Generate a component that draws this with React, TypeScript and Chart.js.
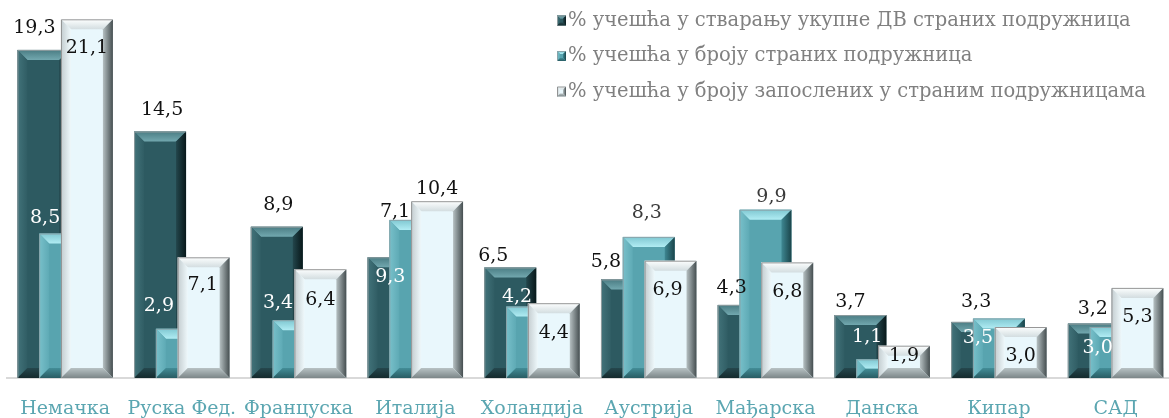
import React, { useEffect, useRef } from "react";
import { Chart, registerables } from "chart.js";

Chart.register(...registerables);

const categories = ["Немачка", "Руска Фед.", "Француска", "Италија", "Холандија", "Аустрија", "Мађарска", "Данска", "Кипар", "САД"];
const seriesNames = [
  "% учешћа у стварању укупне ДВ страних подружница",
  "% учешћа у броју страних подружница",
  "% учешћа у броју запослених у страним подружницама",
];
const shareValueAdded = [19.3, 14.5, 8.9, 7.1, 6.5, 5.8, 4.3, 3.7, 3.3, 3.2];
const shareCompanies = [8.5, 2.9, 3.4, 9.3, 4.2, 8.3, 9.9, 1.1, 3.5, 3.0];
const shareEmployees = [21.1, 7.1, 6.4, 10.4, 4.4, 6.9, 6.8, 1.9, 3.0, 5.3];
const yMax = 22;

// label placement (offsets from bar centre / bar top, px)
const labelDx = [
  [-9, 2, 1.5, 1.5, -17, -21, -12, -10, -1, -1],
  [-20, -23, -20.5, -25, -15, -2, 6, -15, -21, -18],
  [0, -1, 0, 0, 0, -3, 0, 0, 0, 0],
];
const labelDy = [
  [-22, -21, -22, -45, -11, -17, -17, -13, -20, -15],
  [-15, -23, -17, 57, -10, -24, -13, -22, 20, 21],
  [29, 28, 31, -12, 30, 29, 30, 10, 29, 29],
];
const labelColors = [
  Array(10).fill("#111111"),
  ["#ffffff", "#ffffff", "#ffffff", "#ffffff", "#ffffff", "#3a3a3a", "#3a3a3a", "#ffffff", "#ffffff", "#ffffff"],
  Array(10).fill("#111111"),
];

type Pal = {
  face: string; topO: string; topI: string; leftO: string; leftI: string;
  rightI: string; rightO: string; botI: string; botO: string; edge: string;
};

const palettes: Pal[] = [
  { face: "#2d5a61", topO: "#4a7c83", topI: "#72a8af", leftO: "#42737a", leftI: "#305d64", rightI: "#23464c", rightO: "#08181a", botI: "#25474d", botO: "#142a2d", edge: "rgba(150,160,162,0.9)" },
  { face: "#58a4af", topO: "#7fc7d1", topI: "#b0ecf3", leftO: "#78c0ca", leftI: "#5eaab5", rightI: "#3e8792", rightO: "#1a444a", botI: "#438d97", botO: "#285c63", edge: "rgba(140,160,165,0.9)" },
  { face: "#e9f7fc", topO: "#fdffff", topI: "#d3dde0", leftO: "#c3cccf", leftI: "#eef8fb", rightI: "#b6c0c2", rightO: "#454e50", botI: "#b8c2c4", botO: "#7c8688", edge: "rgba(140,140,140,0.9)" },
];

function poly(ctx: CanvasRenderingContext2D, pts: number[][], fill: any) {
  ctx.beginPath();
  ctx.moveTo(pts[0][0], pts[0][1]);
  for (let i = 1; i < pts.length; i++) ctx.lineTo(pts[i][0], pts[i][1]);
  ctx.closePath();
  ctx.fillStyle = fill;
  ctx.fill();
}

function bevelRect(ctx: CanvasRenderingContext2D, x0: number, y0: number, x1: number, y1: number, p: Pal, bsz: number) {
  const w = x1 - x0, h = y1 - y0;
  if (w <= 0 || h <= 0) return;
  const b = Math.min(bsz, w / 2, h / 2);
  ctx.save();
  ctx.fillStyle = p.face;
  ctx.fillRect(x0, y0, w, h);
  let g = ctx.createLinearGradient(0, y0, 0, y0 + b);
  g.addColorStop(0, p.topO); g.addColorStop(1, p.topI);
  poly(ctx, [[x0, y0], [x1, y0], [x1 - b, y0 + b], [x0 + b, y0 + b]], g);
  g = ctx.createLinearGradient(x0, 0, x0 + b, 0);
  g.addColorStop(0, p.leftO); g.addColorStop(1, p.leftI);
  poly(ctx, [[x0, y0], [x0 + b, y0 + b], [x0 + b, y1 - b], [x0, y1]], g);
  g = ctx.createLinearGradient(x1 - b, 0, x1, 0);
  g.addColorStop(0, p.rightI); g.addColorStop(1, p.rightO);
  poly(ctx, [[x1, y0], [x1 - b, y0 + b], [x1 - b, y1 - b], [x1, y1]], g);
  g = ctx.createLinearGradient(0, y1 - b, 0, y1);
  g.addColorStop(0, p.botI); g.addColorStop(1, p.botO);
  poly(ctx, [[x0, y1], [x0 + b, y1 - b], [x1 - b, y1 - b], [x1, y1]], g);
  ctx.strokeStyle = p.edge;
  ctx.lineWidth = 1;
  ctx.beginPath();
  ctx.moveTo(x0 + 0.5, y1);
  ctx.lineTo(x0 + 0.5, y0 + 0.5);
  ctx.lineTo(x1 - 0.5, y0 + 0.5);
  ctx.stroke();
  ctx.restore();
}

const fmt = (v: number) => v.toFixed(1).replace(".", ",");

const bevelPlugin = {
  id: "bevelBars",
  afterDatasetsDraw(chart: any) {
    const ctx: CanvasRenderingContext2D = chart.ctx;
    const n = chart.data.datasets.length;
    for (let d = 0; d < n; d++) {
      const meta = chart.getDatasetMeta(d);
      meta.data.forEach((el: any) => {
        const { x, y, base, width } = el.getProps(["x", "y", "base", "width"], true);
        bevelRect(ctx, x - width / 2, y, x + width / 2, base, palettes[d], 10);
      });
    }
    ctx.save();
    ctx.font = "19px 'DejaVu Serif'";
    ctx.textAlign = "center";
    ctx.textBaseline = "middle";
    for (let d = 0; d < n; d++) {
      const meta = chart.getDatasetMeta(d);
      const vals = chart.data.datasets[d].data as number[];
      meta.data.forEach((el: any, i: number) => {
        const { x, y } = el.getProps(["x", "y"], true);
        ctx.fillStyle = labelColors[d][i];
        ctx.fillText(fmt(vals[i]), x + labelDx[d][i], y + labelDy[d][i]);
      });
    }
    ctx.restore();
  },
  afterDraw(chart: any) {
    const ctx: CanvasRenderingContext2D = chart.ctx;
    ctx.save();
    const rows = [20.5, 56, 91.5];
    ctx.font = "19.5px 'DejaVu Serif'";
    ctx.textBaseline = "middle";
    ctx.textAlign = "left";
    seriesNames.forEach((name, i) => {
      bevelRect(ctx, 557, rows[i] - 5, 566, rows[i] + 5, palettes[i], 3);
      ctx.fillStyle = "#808080";
      ctx.fillText(name, 568, rows[i]);
    });
    ctx.restore();
  },
};

export default function App() {
  const ref = useRef<HTMLCanvasElement | null>(null);
  useEffect(() => {
    if (!ref.current) return;
    const mk = (label: string, data: number[]) => ({
      label,
      data,
      backgroundColor: "rgba(0,0,0,0)",
      borderWidth: 0,
      categoryPercentage: 0.56,
      barPercentage: 2.385,
    });
    const chart = new Chart(ref.current, {
      type: "bar",
      data: {
        labels: categories,
        datasets: [
          mk(seriesNames[0], shareValueAdded),
          mk(seriesNames[1], shareCompanies),
          mk(seriesNames[2], shareEmployees),
        ],
      },
      options: {
        responsive: false,
        animation: false,
        layout: { padding: { left: 6, right: 2, top: 4, bottom: 0 } },
        plugins: { legend: { display: false }, tooltip: { enabled: false } },
        scales: {
          x: {
            grid: { display: false, drawTicks: false },
            border: { display: true, color: "#d9d9d9", width: 2 },
            ticks: {
              color: "#5ba6b1",
              font: { family: "'DejaVu Serif'", size: 19 },
              padding: 20,
              maxRotation: 0,
              autoSkip: false,
            },
            afterFit: (scale: any) => {
              scale.height = 40;
            },
          },
          y: { display: false, min: 0, max: yMax },
        },
      },
      plugins: [bevelPlugin],
    });
    return () => chart.destroy();
  }, []);
  return (
    <div style={{ position: "fixed", left: 0, top: 0, width: 1176, height: 418, background: "#ffffff" }}>
      <canvas ref={ref} width={1176} height={418} style={{ display: "block" }} />
    </div>
  );
}
